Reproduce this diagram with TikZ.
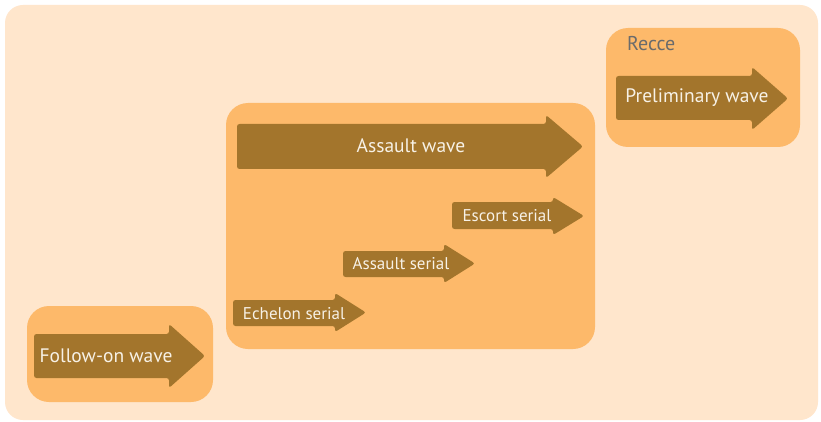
\documentclass[tikz,border=0pt]{standalone}
\usepackage{fontspec}
\setmainfont{PT Sans}
\definecolor{bgpeach}{HTML}{FFE6CC}
\definecolor{boxorange}{HTML}{FDB96A}
\definecolor{arrowbrown}{HTML}{A3752C}
\definecolor{lbltext}{HTML}{F7F1E6}
\definecolor{recce}{HTML}{6B6B6B}
\newcommand{\wavearrow}[8]{% name, left, top, bottom, headx, headtop, headbottom, tip
  \fill[arrowbrown, rounded corners=2.5pt]
    (#2,#3) -- (#5,#3) -- (#5,#6) -- (#8,{(#6+#7)/2}) -- (#5,#7) -- (#5,#4) -- (#2,#4) -- cycle;
  \coordinate (#1) at ({(#2+#8)/2},{(#3+#4)/2});
}
\tikzset{
  group/.style={fill=boxorange, rounded corners=22pt},
  biglbl/.style={text=lbltext, font=\fontsize{19.5}{21}\selectfont, inner sep=0pt},
  smalllbl/.style={text=lbltext, font=\fontsize{17}{19}\selectfont, inner sep=0pt},
}
\begin{document}
\begin{tikzpicture}[x=1pt,y=-1pt]
\useasboundingbox (0,0) rectangle (821,422);
\fill[white] (0,0) rectangle (821,422);
\fill[bgpeach, rounded corners=18pt] (5,5) rectangle (818,420);
% group boxes
\fill[group] (606,28) rectangle (800,147);
\fill[group] (226,103) rectangle (595,349);
\fill[group] (27,306) rectangle (213,402);
% arrows
\wavearrow{pw}{616}{76}{120}{752}{67}{130}{788}
\wavearrow{aw}{237}{124}{169}{546}{115}{178}{583}
\wavearrow{es}{452}{202}{229}{553}{197}{235}{584}
\wavearrow{as}{343}{251}{277}{444}{244}{283}{475}
\wavearrow{ech}{233}{300}{326}{335}{293}{332}{366}
\wavearrow{fw}{34}{334}{378}{169}{324}{388}{205}
% labels
\node[text=recce, font=\fontsize{20}{22}\selectfont, anchor=west, inner sep=0pt] (recce) at (627,44) {Recce};
\node[biglbl] (pwl) at (697,98) {Preliminary wave};
\node[biglbl] (awl) at (411,146) {Assault wave};
\node[biglbl] (fwl) at (106,356) {Follow-on wave};
\node[smalllbl] (esl) at (507,216) {Escort serial};
\node[smalllbl] (asl) at (401,264) {Assault serial};
\node[smalllbl] (echl) at (294,314) {Echelon serial};
\end{tikzpicture}
\end{document}
